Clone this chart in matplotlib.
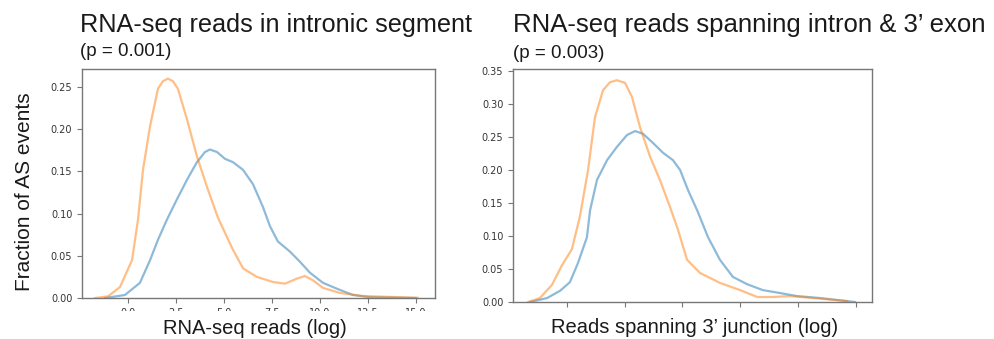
import matplotlib
matplotlib.use("Agg")
import matplotlib.pyplot as plt
from matplotlib.patches import Rectangle

# left panel: reads in intronic segment
x_intr_orange = [-1.72, -1.04, -0.42, 0.21, 0.52, 0.78, 1.15, 1.56, 1.82, 2.08, 2.34, 2.60, 3.07,
                 3.59, 4.11, 4.69, 5.10, 5.45, 6.0, 6.72, 7.55, 8.18, 8.80, 9.22, 9.64, 10.16,
                 11.04, 12.24, 13.80, 15.10]
y_intr_orange = [0.0, 0.002, 0.013, 0.045, 0.093, 0.152, 0.204, 0.248, 0.257, 0.260, 0.257, 0.248,
                 0.212, 0.168, 0.132, 0.095, 0.075, 0.058, 0.035, 0.025, 0.019, 0.017, 0.023,
                 0.026, 0.021, 0.012, 0.006, 0.0024, 0.0012, 0.0003]
x_intr_blue = [-1.20, -0.16, 0.62, 1.15, 1.56, 2.03, 2.55, 3.07, 3.59, 4.01, 4.27, 4.64, 5.05,
               5.47, 5.99, 6.51, 7.03, 7.40, 7.81, 8.44, 8.96, 9.48, 10.16, 10.89, 11.72, 12.60,
               15.0]
y_intr_blue = [0.0, 0.0036, 0.018, 0.045, 0.069, 0.093, 0.117, 0.140, 0.161, 0.173, 0.176, 0.173,
               0.165, 0.161, 0.152, 0.135, 0.108, 0.085, 0.067, 0.055, 0.043, 0.030, 0.018,
               0.011, 0.0036, 0.001, 0.0]

# right panel: reads spanning intron & 3' exon
x_junc_orange = [-1.35, -0.94, -0.52, -0.17, 0.17, 0.45, 0.73, 0.97, 1.25, 1.49, 1.73, 2.01,
                 2.25, 2.53, 2.88, 3.22, 3.57, 3.85, 4.16, 4.61, 5.30, 6.00, 6.59, 7.14, 7.73,
                 8.53, 9.71]
y_junc_orange = [0.0, 0.006, 0.026, 0.056, 0.080, 0.130, 0.200, 0.280, 0.321, 0.333, 0.336,
                 0.332, 0.311, 0.265, 0.220, 0.185, 0.144, 0.109, 0.064, 0.044, 0.029, 0.018,
                 0.0076, 0.0076, 0.009, 0.006, 0.0015]
x_junc_blue = [-1.28, -0.69, -0.24, 0.10, 0.38, 0.69, 0.80, 1.04, 1.39, 1.73, 2.08, 2.36,
               2.63, 2.98, 3.33, 3.67, 3.92, 4.19, 4.51, 4.89, 5.30, 5.75, 6.24, 6.79, 7.38,
               7.97, 8.77, 9.98]
y_junc_blue = [0.0, 0.006, 0.017, 0.030, 0.059, 0.098, 0.139, 0.185, 0.215, 0.235, 0.253,
               0.259, 0.255, 0.241, 0.226, 0.215, 0.200, 0.170, 0.139, 0.098, 0.064, 0.038,
               0.027, 0.018, 0.0136, 0.009, 0.006, 0.0]

xticks_intr = [0, 2.5, 5, 7.5, 10, 12.5, 15]
xticks_junc = [0, 2, 4, 6, 8, 10]

blue = "#1f77b4"
orange = "#ff7f0e"
lab_font = "Liberation Sans"
txt = "#1a1a1a"

fig = plt.figure(figsize=(9.95, 3.39), dpi=100)

ax1 = fig.add_axes([0.0824, 0.1209, 0.3548, 0.6755])
ax1.plot(x_intr_blue, y_intr_blue, color=blue, alpha=0.5, lw=1.6)
ax1.plot(x_intr_orange, y_intr_orange, color=orange, alpha=0.5, lw=1.6)
ax1.set_xlim(-2.4, 16.0)
ax1.set_ylim(0, 0.2714)
ax1.set_xticks(xticks_intr)
ax1.set_xticklabels(["%.1f" % v for v in xticks_intr])
ax1.set_yticks([0, 0.05, 0.10, 0.15, 0.20, 0.25])
ax1.set_yticklabels(["%.2f" % v for v in [0, 0.05, 0.10, 0.15, 0.20, 0.25]])

ax2 = fig.add_axes([0.5156, 0.1091, 0.3608, 0.6873])
ax2.plot(x_junc_blue, y_junc_blue, color=blue, alpha=0.5, lw=1.6)
ax2.plot(x_junc_orange, y_junc_orange, color=orange, alpha=0.5, lw=1.6)
ax2.set_xlim(-1.87, 10.57)
ax2.set_ylim(0, 0.353)
ax2.set_xticks(xticks_junc)
ax2.set_xticklabels([])
ax2.set_yticks([0, 0.05, 0.10, 0.15, 0.20, 0.25, 0.30, 0.35])
ax2.set_yticklabels(["%.2f" % v for v in [0, 0.05, 0.10, 0.15, 0.20, 0.25, 0.30, 0.35]])

for ax in (ax1, ax2):
    for s in ax.spines.values():
        s.set_color("#777777")
        s.set_linewidth(1.0)
    ax.tick_params(labelsize=7, colors="#777777", labelcolor="#333333", length=3.5)

# tick labels of the left panel are cut off in the original
fig.add_artist(Rectangle((0, 0), 1, 0.0826, transform=fig.transFigure,
                         facecolor="white", edgecolor="none", zorder=5))

fig.text(80 / 995, 1 - 32 / 339, "RNA-seq reads in intronic segment", fontsize=18.2,
         family=lab_font, color=txt, va="baseline")
fig.text(80 / 995, 1 - 56 / 339, "(p = 0.001)", fontsize=13.5, family=lab_font,
         color=txt, va="baseline")
fig.text(513 / 995, 1 - 32 / 339, "RNA-seq reads spanning intron & 3\u2019 exon", fontsize=18.5,
         family=lab_font, color=txt, va="baseline")
fig.text(513 / 995, 1 - 58 / 339, "(p = 0.003)", fontsize=13.5, family=lab_font,
         color=txt, va="baseline")

fig.text(255 / 995, 1 - 334 / 339, "RNA-seq reads (log)", fontsize=14.5, family=lab_font,
         color=txt, ha="center", va="baseline", zorder=6)
fig.text(695 / 995, 1 - 333 / 339, "Reads spanning 3\u2019 junction (log)", fontsize=14.5,
         family=lab_font, color=txt, ha="center", va="baseline", zorder=6)
fig.text(25 / 995, 1 - 192 / 339, "Fraction of AS events", fontsize=15, family=lab_font,
         color=txt, rotation=90, ha="center", va="center")

fig.savefig("out.png", dpi=100)
